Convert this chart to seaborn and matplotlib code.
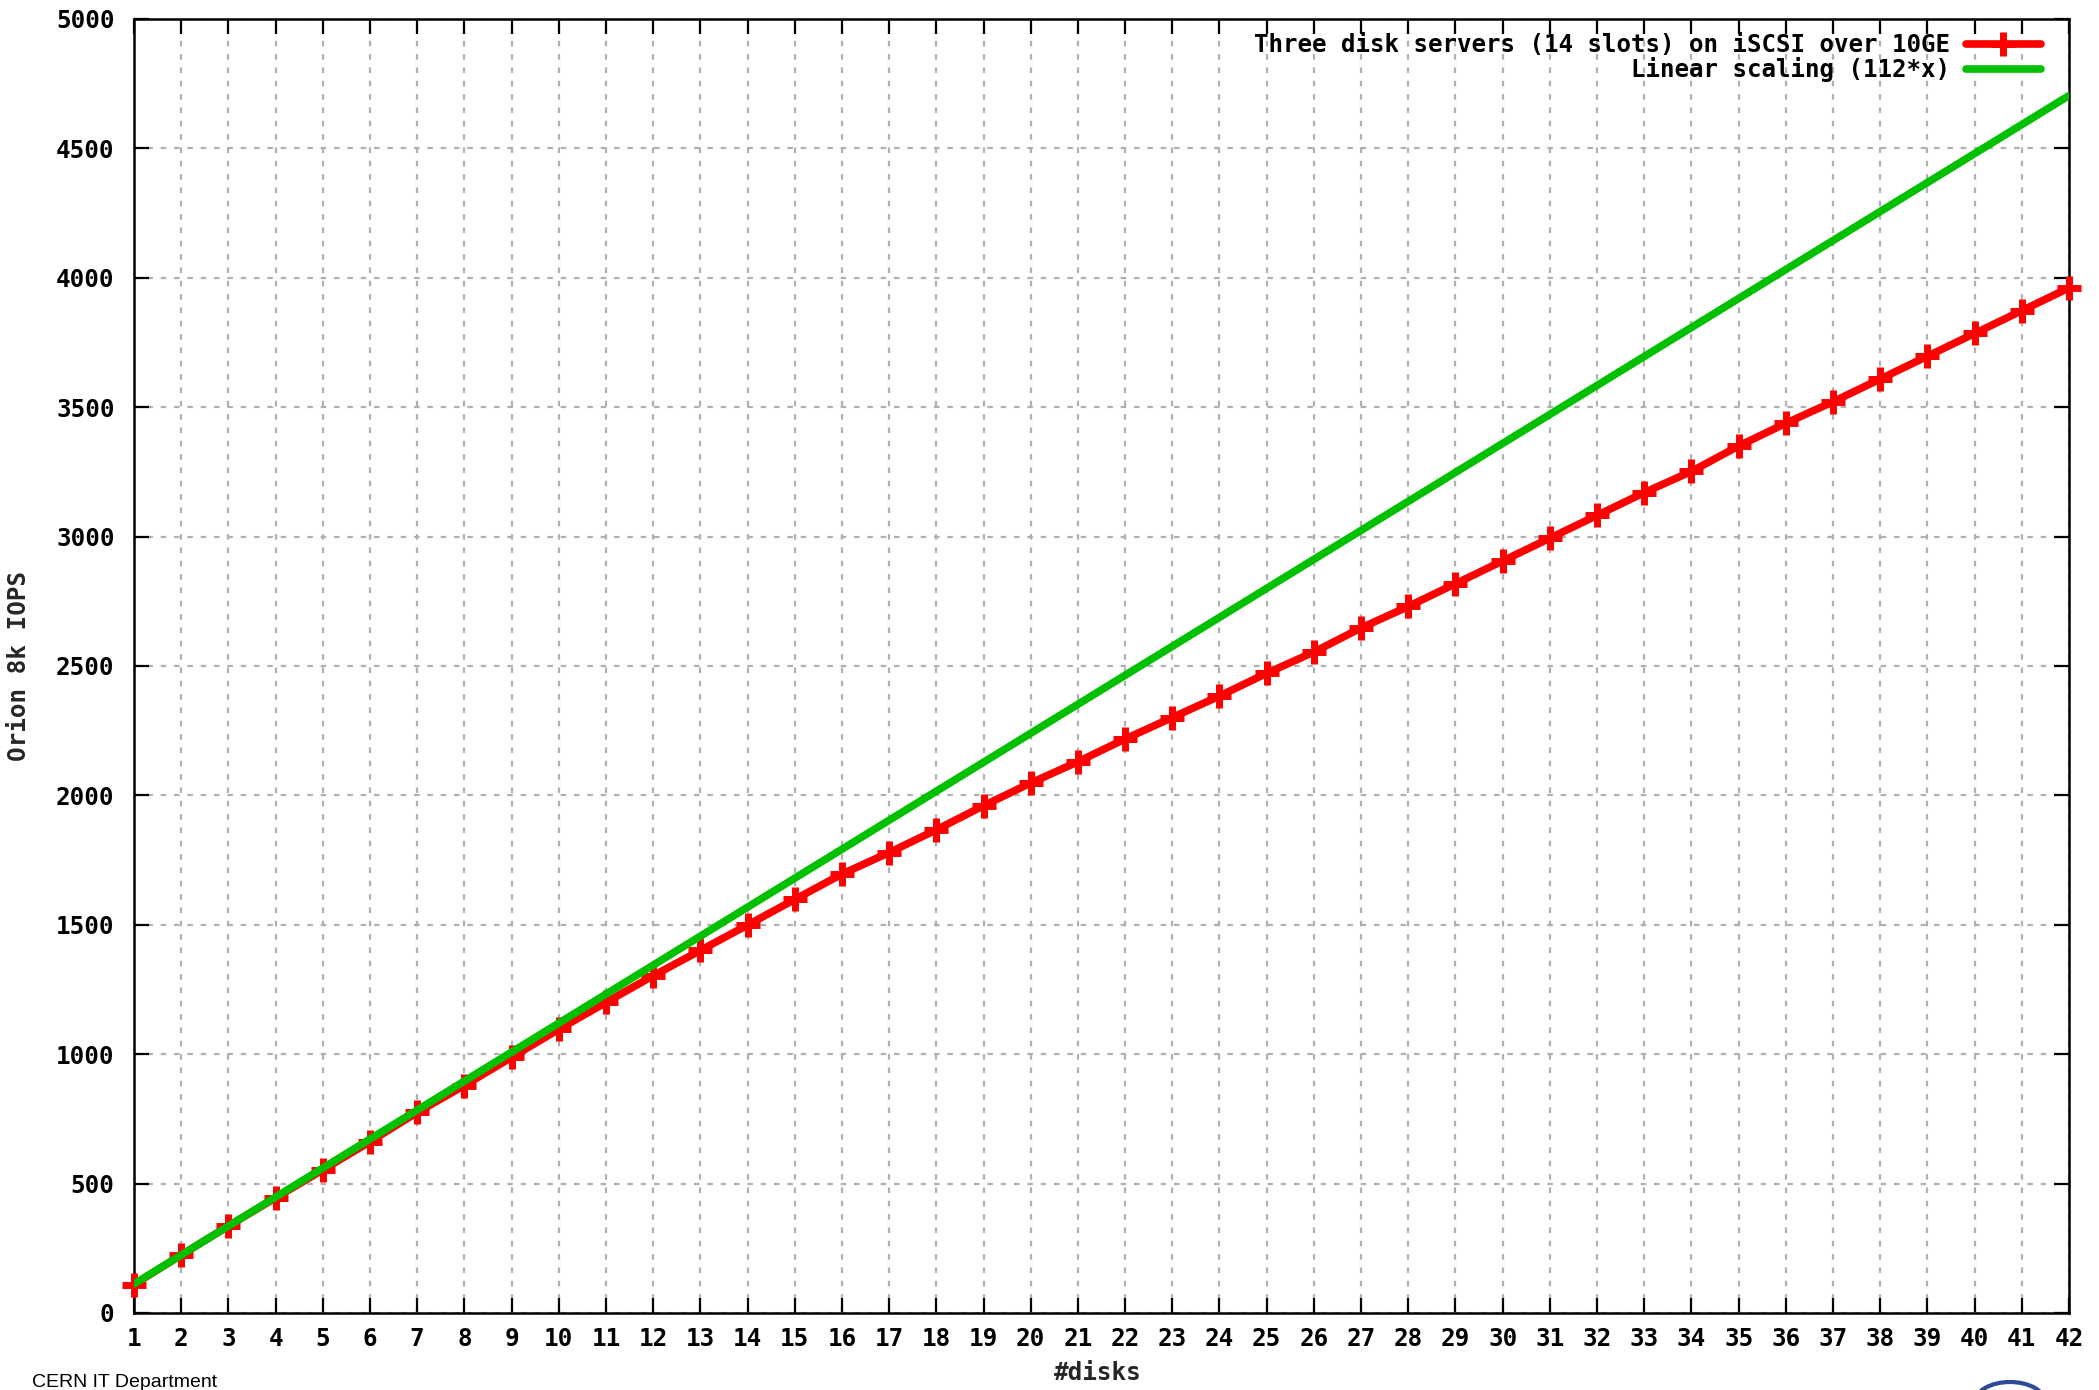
import numpy as np
import pandas as pd
import matplotlib
matplotlib.use("Agg")
import matplotlib.pyplot as plt
from matplotlib.patches import Ellipse
import seaborn as sns

disks = list(range(1, 43))
measured_iops = [110, 224, 336, 445, 553, 662, 775, 879, 988, 1096,
                 1200, 1303, 1401, 1499, 1598, 1696, 1779, 1867, 1960, 2048,
                 2130, 2218, 2301, 2384, 2472, 2554, 2647, 2730, 2818, 2906,
                 2994, 3082, 3170, 3252, 3350, 3438, 3521, 3609, 3697, 3785,
                 3873, 3961]
linear_iops = [112, 224, 336, 448, 560, 672, 784, 896, 1008, 1120,
               1232, 1344, 1456, 1568, 1680, 1792, 1904, 2016, 2128, 2240,
               2352, 2464, 2576, 2688, 2800, 2912, 3024, 3136, 3248, 3360,
               3472, 3584, 3696, 3808, 3920, 4032, 4144, 4256, 4368, 4480,
               4592, 4704]
label_measured = "Three disk servers (14 slots) on iSCSI over 10GE"
label_linear = "Linear scaling (112*x)"
y_ticks = list(range(0, 5001, 500))

sns.set_theme(style="white")
mono = ["DejaVu Sans Mono"]
plt.rcParams["font.family"] = mono

fig = plt.figure(figsize=(20.99, 13.90), dpi=100)
W, H = 2099, 1390
left, right, top, bottom = 134, 2069, 19, 1313
ax = fig.add_axes([left / W, 1 - bottom / H, (right - left) / W, (bottom - top) / H])

df_m = pd.DataFrame({"disks": disks, "iops": measured_iops})
df_l = pd.DataFrame({"disks": disks, "iops": linear_iops})

sns.lineplot(data=df_m, x="disks", y="iops", ax=ax, color="#ff0000", lw=5.5,
             marker="+", markersize=17, markeredgewidth=5,
             markeredgecolor="#ff0000", label=label_measured, zorder=3,
             clip_on=False)
sns.lineplot(data=df_l, x="disks", y="iops", ax=ax, color="#00c000", lw=5.5,
             label=label_linear, zorder=4)

ax.set_xlim(1, 42)
ax.set_ylim(0, 5000)
ax.set_xticks(disks)
ax.set_yticks(y_ticks)
ax.grid(True, color="#b0b0b0", linestyle=(0, (2.5, 3.5)), linewidth=1.6)
for s in ax.spines.values():
    s.set_color("black")
    s.set_linewidth(1.8)
    s.set_visible(True)
ax.tick_params(axis="both", which="major", direction="in", length=11, width=1.6,
               color="black", top=True, right=True, bottom=True, left=True,
               labelsize=17.5, labelcolor="black")
ax.tick_params(axis="x", pad=10)
ax.tick_params(axis="y", pad=14)
for lab in ax.get_xticklabels() + ax.get_yticklabels():
    lab.set_fontweight("bold")

ax.set_xlabel("#disks", fontsize=17.5, fontweight="bold")
ax.set_ylabel("Orion 8k IOPS", fontsize=17.5, fontweight="bold")
ax.xaxis.set_label_coords((820 * 1.339 - 134) / 1935, -(1361 - 1313) / 1294)
ax.yaxis.set_label_coords(-(134 - 31) / 1935, 0.5)

leg = ax.legend(loc="upper right", bbox_to_anchor=(0.9855, 0.989), frameon=False,
                markerfirst=False, labelspacing=0.0,
                handlelength=3.1, handletextpad=0.65, borderpad=0, borderaxespad=0,
                prop={"family": mono, "weight": "bold", "size": 17.4})
for t in leg.get_texts():
    t.set_color("black")

fig.text(32 / W, 1 - 1374 / H, "CERN IT Department", family=["Liberation Sans"],
         fontsize=14, va="top", ha="left", color="black")
fig.add_artist(Ellipse((2010 / W, 1 - 1402 / H), 70 / W, 40 / H,
                       transform=fig.transFigure, fill=False,
                       edgecolor="#2b4a9a", lw=3, clip_on=False))

fig.savefig("out.png", dpi=100, facecolor="white")
